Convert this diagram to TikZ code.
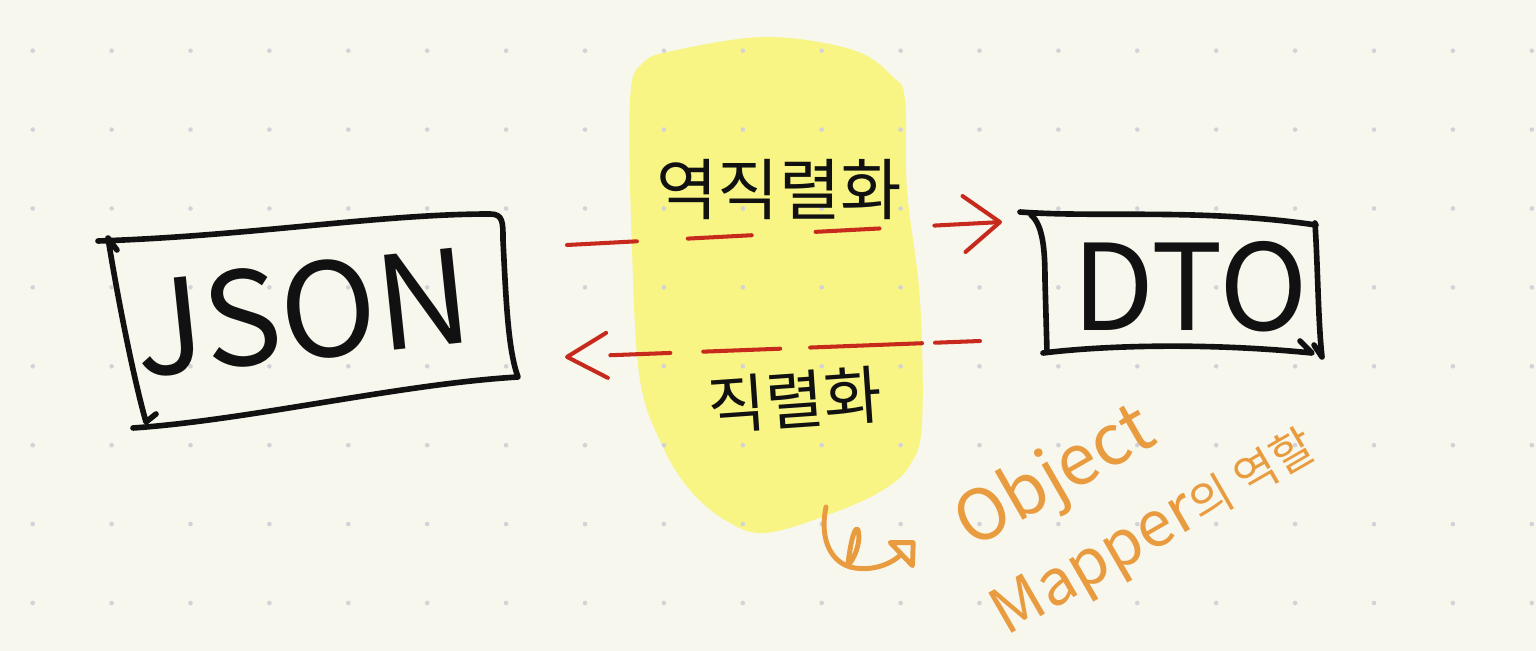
\documentclass[tikz,border=0pt]{standalone}
\usepackage{fontspec}
\setmainfont{Noto Sans CJK KR}
\usepackage{tikz}
\usetikzlibrary{arrows.meta,positioning,calc}
\definecolor{paper}{HTML}{F7F7ED}
\definecolor{dotgray}{HTML}{D2D2D8}
\definecolor{ink}{HTML}{111111}
\definecolor{marker}{HTML}{F8F585}
\definecolor{redpen}{HTML}{C8291D}
\definecolor{orangepen}{HTML}{E99C3F}
\tikzset{
  inkline/.style={draw=ink, line width=3.2pt, line cap=round, line join=round},
  dashpen/.style={draw=redpen, line width=2.3pt, line cap=round},
  hookpen/.style={draw=orangepen, line width=2.8pt, line cap=round, line join=round},
  bigword/.style={text=ink, inner sep=0pt, font=\fontsize{74}{78}\selectfont},
  koword/.style={text=ink, inner sep=0pt, font=\fontsize{38}{42}\selectfont},
  noteword/.style={text=orangepen, inner sep=0pt}
}

\begin{document}
\begin{tikzpicture}[x=0.02cm,y=-0.02cm]
    \fill[paper] (0,0) rectangle (1536,651);
    \useasboundingbox (0,0) rectangle (1536,651);

    % highlighter behind the two labels
    \fill[marker] plot[smooth cycle, tension=0.6] coordinates {(630,100) (632,250) (640,380) (663,447) (690,490) (725,520) (765,533) (833,513) (883,490) (910,465) (922,423) (920,300) (907,190) (905,100) (893,77) (853,50) (767,37) (677,50) (643,63)};

    % dot grid
    \foreach \i in {0,...,19} {
      \foreach \j in {0,...,7} {
        \pgfmathsetmacro{\xx}{32.7+\i*78.9}
        \pgfmathsetmacro{\yy}{50.7+\j*78.9}
        \fill[dotgray] (\xx,\yy) circle (1.3pt);
      }
    }

    % JSON box
    \draw[inkline] (98,241) .. controls (250,236) and (380,214) .. (490,214) .. controls (503,214) and (503,222) .. (503,240) .. controls (506,300) and (508,350) .. (518,377) .. controls (400,384) and (250,420) .. (133,428);
    \draw[inkline] (117,250) -- (108,238) .. controls (118,300) and (134,380) .. (146,422) -- (156,414);
    \node[bigword, rotate=6] (json) at (302,312) {JSON};

    % DTO box
    \draw[inkline] (1020,212) .. controls (1100,218) and (1200,208) .. (1316,225);
    \draw[inkline] (1031,215) .. controls (1043,225) and (1045,250) .. (1045,280) -- (1047,352);
    \draw[inkline] (1043,353) .. controls (1100,346) and (1200,342) .. (1312,353) -- (1300,341);
    \draw[inkline] (1315,223) .. controls (1318,270) and (1318,320) .. (1322,357) -- (1314,345);
    \node[bigword, font=\fontsize{68}{72}\selectfont] (dto) at (1190,287) {DTO};

    % labels on the highlighter
    \node[koword] (deser) at (779,190) {역직렬화};
    \node[koword, rotate=4, font=\fontsize{36}{40}\selectfont] (ser) at (795,400) {직렬화};

    % dashed connectors
    \coordinate (deserFrom) at (567,245);
    \coordinate (deserTo) at (1002,222);
    \coordinate (serFrom) at (980,341);
    \coordinate (serTo) at (565,357);
    \draw[dashpen, dash pattern=on 1.4cm off 1.02cm on 1.28cm off 1.28cm on 1.28cm off 1.1cm,
          -{Straight Barb[round, length=0.72cm, width=1.12cm]}] (deserFrom) -- (deserTo);
    \draw[dashpen, dash pattern=on 0.9cm off 0.26cm on 2.24cm off 0.6cm on 1.54cm off 0.66cm on 1.2cm off 2cm,
          -{Straight Barb[round, length=0.8cm, width=0.9cm]}] (serFrom) -- (serTo);

    % note
    \coordinate (hookTop) at (826,507);
    \draw[hookpen, -{Triangle[open, round, length=0.45cm, width=0.85cm]}] (hookTop) .. controls (820,535) and (828,560) .. (850,567) .. controls (870,572) and (890,565) .. (915,541);
    \draw[hookpen] (848,563) .. controls (851,540) and (855,525) .. (858,530) .. controls (861,540) and (856,555) .. (850,563);
    \node[noteword, rotate=30, font=\fontsize{40}{44}\selectfont] (objword) at (1056,479) {Object};
    \node[noteword, rotate=30] (roleword) at (1155,532) {{\fontsize{36}{40}\selectfont Mapper}{\fontsize{26}{30}\selectfont 의 역할}};
\end{tikzpicture}
\end{document}
